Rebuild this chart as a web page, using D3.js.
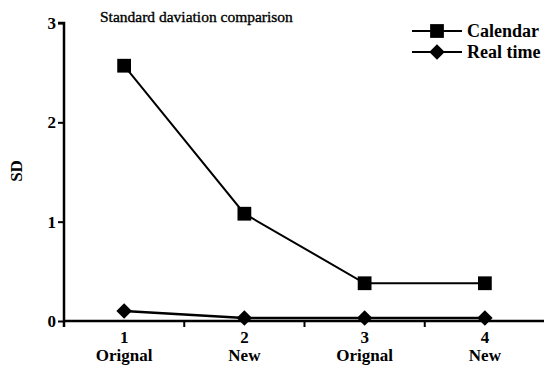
<!DOCTYPE html>
<html><head><meta charset="utf-8">
<script src="https://cdn.jsdelivr.net/npm/d3@7"></script>
<style>body{margin:0;background:#fff}svg{display:block}</style>
</head><body><svg id="c" width="544" height="368" style="font-family:'Liberation Serif','Times New Roman',Times,serif"></svg>
<script>
const xTicks = [1, 2, 3, 4];
const xCats = ["Orignal", "New", "Orignal", "New"];
const calendar = [2.57, 1.08, 0.38, 0.38];
const realTime = [0.10, 0.03, 0.03, 0.03];
const yTicks = [0, 1, 2, 3];
const title = "Standard daviation comparison";

const FONT = "'Liberation Serif','Times New Roman',Times,serif";
const svg = d3.select("#c");
const x = d3.scaleLinear().domain([0.5, 4.5]).range([64, 545]);
const y = d3.scaleLinear().domain([0, 3]).range([321, 23]);

// y axis
const yAxis = d3.axisLeft(y).tickValues(yTicks).tickSize(6).tickPadding(2).tickFormat(d3.format("d"));
const gy = svg.append("g").attr("transform", `translate(${x(0.5)},0)`).call(yAxis).attr("font-family", FONT);
gy.select(".domain").attr("d", `M-6,${y(3)}H0V${y(0)+6}`).attr("stroke-width", 2.5);
gy.selectAll(".tick line").attr("stroke-width", 2);
gy.selectAll(".tick text").attr("font-size", 17).attr("font-weight", "bold").style("font-family", FONT);

// x axis
const gx = svg.append("g").attr("transform", `translate(0,${y(0)})`);
gx.append("line").attr("x1", x(0.5)).attr("x2", x(4.5)).attr("stroke", "#000").attr("stroke-width", 2.5);
const minor = d3.range(0.5, 4.6, 1);
gx.selectAll("line.mt").data(minor).join("line").attr("class", "mt")
  .attr("x1", d => x(d)).attr("x2", d => x(d)).attr("y1", 0).attr("y2", 6)
  .attr("stroke", "#000").attr("stroke-width", 2);
gx.selectAll("text.num").data(xTicks).join("text").attr("class", "num")
  .attr("x", d => x(d)).attr("y", 22).attr("text-anchor", "middle").style("font-family", FONT)
  .attr("font-size", 17).attr("font-weight", "bold").text(d => d);
gx.selectAll("text.cat").data(xCats).join("text").attr("class", "cat")
  .attr("x", (d, i) => x(xTicks[i])).attr("y", 40).attr("text-anchor", "middle").style("font-family", FONT)
  .attr("font-size", 17).attr("font-weight", "bold").text(d => d);

// y label
svg.append("text").attr("transform", `translate(22,171) rotate(-90)`).attr("text-anchor", "middle").style("font-family", FONT)
  .attr("font-size", 17).attr("font-weight", "bold").text("SD");

// title
svg.append("text").attr("x", 100).attr("y", 22).attr("font-size", 15.5).style("font-family", FONT)
  .attr("stroke", "#000").attr("stroke-width", 0.35).text(title);

const line = d3.line().x((d, i) => x(xTicks[i])).y(d => y(d));
svg.append("path").datum(calendar).attr("d", line).attr("fill", "none").attr("stroke", "#000").attr("stroke-width", 2);
svg.append("path").datum(realTime).attr("d", line).attr("fill", "none").attr("stroke", "#000").attr("stroke-width", 2.5);

const sq = d3.symbol().type(d3.symbolSquare).size(190);
const di = d3.symbol().type(d3.symbolSquare).size(120);
svg.selectAll("path.sq").data(calendar).join("path").attr("class", "sq")
  .attr("transform", (d, i) => `translate(${x(xTicks[i])},${y(d)})`).attr("d", sq()).attr("fill", "#000");
svg.selectAll("path.di").data(realTime).join("path").attr("class", "di")
  .attr("transform", (d, i) => `translate(${x(xTicks[i])},${y(d)}) rotate(45)`).attr("d", di()).attr("fill", "#000");

// legend
const legend = [{name: "Calendar", sym: sq, rot: 0, y: 31}, {name: "Real time", sym: di, rot: 45, y: 52}];
const lg = svg.selectAll("g.lg").data(legend).join("g").attr("class", "lg").attr("transform", d => `translate(412,${d.y})`);
lg.append("line").attr("x1", 0).attr("x2", 50).attr("stroke", "#000").attr("stroke-width", 2);
lg.append("path").attr("transform", d => `translate(25,0) rotate(${d.rot})`).attr("d", d => d.sym()).attr("fill", "#000");
lg.append("text").attr("x", 55).attr("y", 6).attr("font-size", 18).attr("font-weight", "bold").style("font-family", FONT).text(d => d.name);
</script></body></html>
